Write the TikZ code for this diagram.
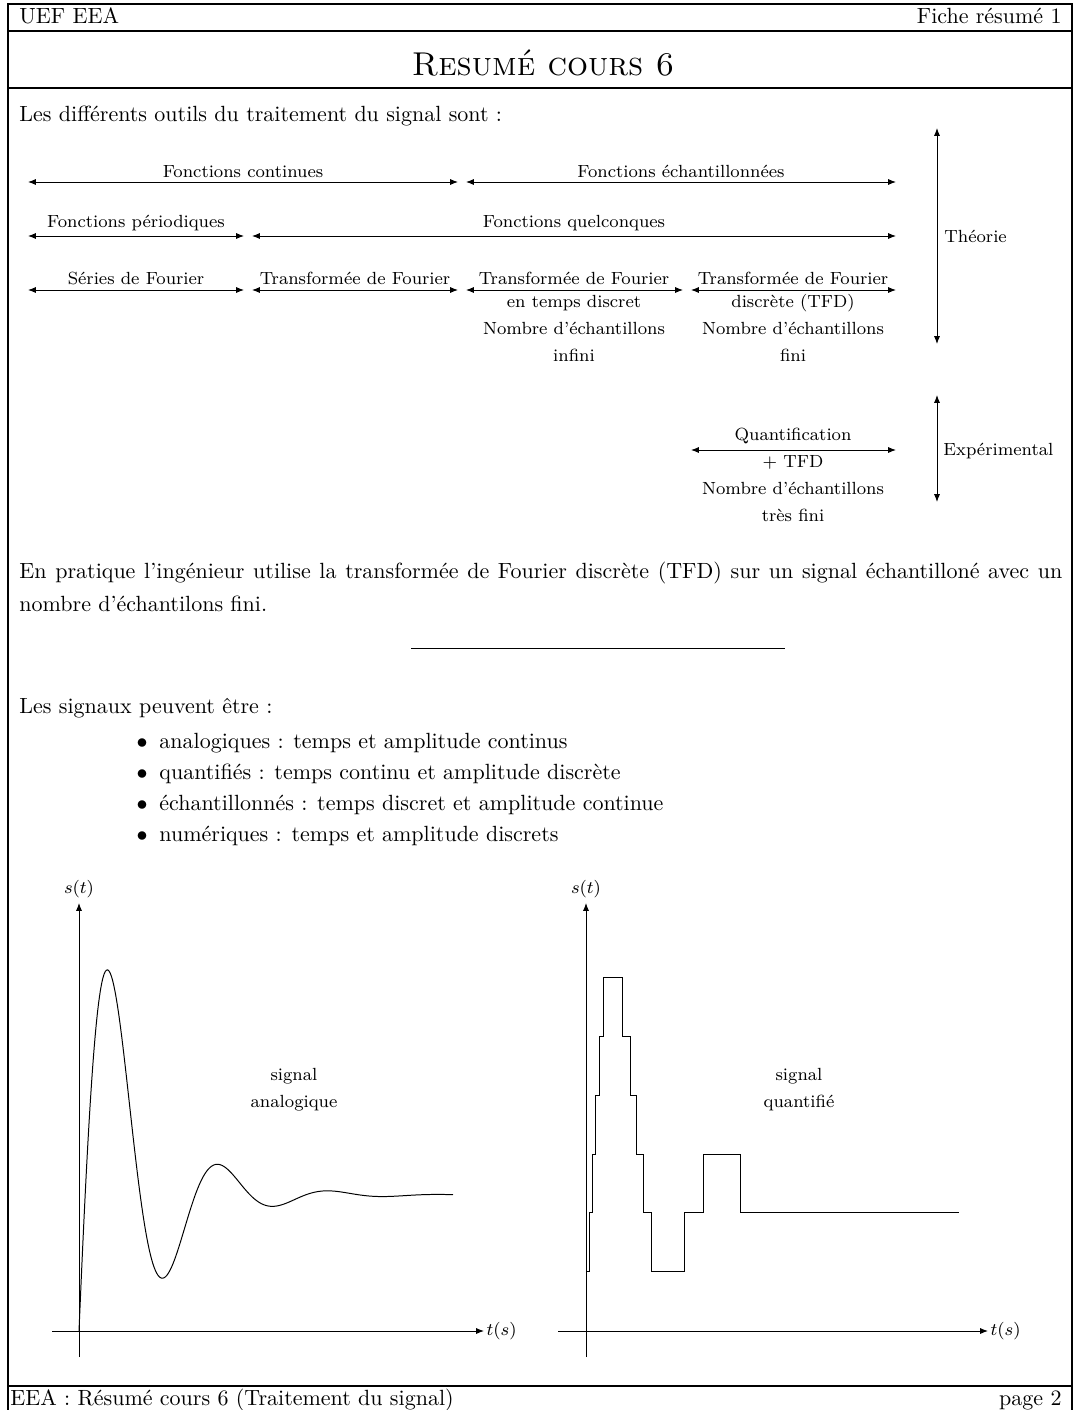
\documentclass[tikz,border=0pt]{standalone}
\usetikzlibrary{arrows.meta}
\begin{document}
\begin{tikzpicture}[x=0.4545pt,y=-0.4545pt,
  frameline/.style={line width=0.5pt},
  darr/.style={{Latex[length=3.6pt,width=2.8pt]}-{Latex[length=3.6pt,width=2.8pt]}, line width=0.45pt},
  axisarr/.style={-{Latex[length=3.6pt,width=2.8pt]}, line width=0.45pt},
  curve/.style={line width=0.45pt},
  lab/.style={font=\footnotesize, anchor=base, inner sep=0pt},
  labw/.style={font=\footnotesize, anchor=base west, inner sep=0pt},
  txt/.style={anchor=base west, inner sep=0pt}]
\useasboundingbox (0,0) rectangle (1076,1410);
% frame
\draw[frameline] (8,1410) -- (8,4) -- (1072,4) -- (1072,1410);
\draw[frameline] (8,31) -- (1072,31);
\draw[frameline] (8,88) -- (1072,88);
\draw[frameline] (8,1386) -- (1072,1386);
% header / footer
\node[txt] (hl) at (19,23) {UEF EEA};
\node[anchor=base east, inner sep=0pt] (hr) at (1062,23) {Fiche résumé 1};
\node[anchor=base, inner sep=0pt] (title) at (543,75) {\fontsize{15}{18}\selectfont\textsc{Resumé cours 6}};
\node[txt] (fl) at (10,1405) {EEA : Résumé cours 6 (Traitement du signal)};
\node[anchor=base east, inner sep=0pt] (fr) at (1062,1405) {page 2};
% intro
\node[txt] (intro) at (19,121) {Les différents outils du traitement du signal sont :};
% arrow end points
\coordinate (a1l) at (28,182);  \coordinate (a1r) at (458,182);
\coordinate (b1l) at (466,182); \coordinate (b1r) at (896,182);
\coordinate (a2l) at (28,236);  \coordinate (a2r) at (244,236);
\coordinate (b2l) at (252,236); \coordinate (b2r) at (896,236);
\coordinate (a3l) at (28,290);  \coordinate (a3r) at (244,290);
\coordinate (b3l) at (252,290); \coordinate (b3r) at (458,290);
\coordinate (c3l) at (466,290); \coordinate (c3r) at (683,290);
\coordinate (d3l) at (691,290); \coordinate (d3r) at (896,290);
\coordinate (el) at (691,450);  \coordinate (er) at (896,450);
\coordinate (tht) at (937,128); \coordinate (thb) at (937,344);
\coordinate (ext) at (937,395); \coordinate (exb) at (937,502);
\draw[darr] (a1l) -- (a1r);
\draw[darr] (b1l) -- (b1r);
\draw[darr] (a2l) -- (a2r);
\draw[darr] (b2l) -- (b2r);
\draw[darr] (a3l) -- (a3r);
\draw[darr] (b3l) -- (b3r);
\draw[darr] (c3l) -- (c3r);
\draw[darr] (d3l) -- (d3r);
\draw[darr] (el) -- (er);
\draw[darr] (tht) -- (thb);
\draw[darr] (ext) -- (exb);
% labels
\node[lab] (l1) at (243,177) {Fonctions continues};
\node[lab] (l2) at (681,177) {Fonctions échantillonnées};
\node[lab] (l3) at (136,227) {Fonctions périodiques};
\node[lab] (l4) at (574,227) {Fonctions quelconques};
\node[lab] (l5) at (136,284) {Séries de Fourier};
\node[lab] (l6) at (355,284) {Transformée de Fourier};
\node[lab] (l7) at (574,284) {Transformée de Fourier};
\node[lab] (l7b) at (574,307) {en temps discret};
\node[lab] (l7c) at (574,334) {Nombre d'échantillons};
\node[lab] (l7d) at (574,361) {infini};
\node[lab] (l8) at (793,284) {Transformée de Fourier};
\node[lab] (l8b) at (793,307) {discrète (TFD)};
\node[lab] (l8c) at (793,334) {Nombre d'échantillons};
\node[lab] (l8d) at (793,361) {fini};
\node[lab] (l9) at (793,440) {Quantification};
\node[lab] (l9b) at (793,467) {+ TFD};
\node[lab] (l9c) at (793,494) {Nombre d'échantillons};
\node[lab] (l9d) at (793,521) {très fini};
\node[labw] (th) at (944,242) {Théorie};
\node[labw] (ex) at (943,455) {Expérimental};
% paragraph
\node[txt] (p1) at (19,578) {\hbox to 474pt{En pratique l'ingénieur utilise la transformée de Fourier discrète (TFD) sur un signal échantilloné avec un}};
\node[txt] (p2) at (19,611) {nombre d'échantilons fini.};
\coordinate (sepl) at (411,648); \coordinate (sepr) at (785,648);
\draw[line width=0.45pt] (sepl) -- (sepr);
% list
\node[txt] (sig) at (19,713) {Les signaux peuvent être :};
\node[anchor=base, inner sep=0pt] (b1) at (142,748) {$\bullet$};
\node[anchor=base, inner sep=0pt] (b2) at (142,779) {$\bullet$};
\node[anchor=base, inner sep=0pt] (b3) at (142,810) {$\bullet$};
\node[anchor=base, inner sep=0pt] (b4) at (142,841) {$\bullet$};
\node[txt] (i1) at (159,748) {analogiques : temps et amplitude continus};
\node[txt] (i2) at (159,779) {quantifiés : temps continu et amplitude discrète};
\node[txt] (i3) at (159,810) {échantillonnés : temps discret et amplitude continue};
\node[txt] (i4) at (159,841) {numériques : temps et amplitude discrets};
% left graph
\coordinate (lx0) at (52,1331); \coordinate (lx1) at (484,1331);
\coordinate (ly0) at (79,1357); \coordinate (ly1) at (79,903);
\draw[axisarr] (lx0) -- (lx1);
\draw[axisarr] (ly0) -- (ly1);
\node[font=\footnotesize, anchor=west, inner sep=1pt] (lt) at (lx1) {$t(s)$};
\node[font=\footnotesize, anchor=south, inner sep=2pt] (ls) at (ly1) {$s(t)$};
\draw[curve] plot[domain=0:374, samples=300, smooth]
  ({79+\x},{1331-(136+exp(-0.0181*\x)*(370*sin(0.0571*\x r)-136*cos(0.0571*\x r)))});
\node[lab] (la1) at (294,1080) {signal};
\node[lab] (la2) at (294,1107) {analogique};
% right graph
\coordinate (rx0) at (558,1331); \coordinate (rx1) at (988,1331);
\coordinate (ry0) at (586,1357); \coordinate (ry1) at (586,903);
\draw[axisarr] (rx0) -- (rx1);
\draw[axisarr] (ry0) -- (ry1);
\node[font=\footnotesize, anchor=west, inner sep=1pt] (rt) at (rx1) {$t(s)$};
\node[font=\footnotesize, anchor=south, inner sep=2pt] (rs) at (ry1) {$s(t)$};
\draw[curve] (586.7,1331) -- (586.7,1271.7) -- (589.3,1271.7) -- (589.3,1212.3) -- (592,1212.3)
  -- (592,1154) -- (595.7,1154) -- (595.7,1095.3) -- (599.3,1095.3) -- (599.3,1036.7)
  -- (603.7,1036.7) -- (603.7,977.7) -- (622.3,977.7) -- (622.3,1036.7) -- (630,1036.7)
  -- (630,1095.3) -- (636.7,1095.3) -- (636.7,1154) -- (643,1154) -- (643,1212.3)
  -- (651.7,1212.3) -- (651.7,1271.7) -- (684.3,1271.7) -- (684.3,1212.3) -- (703.7,1212.3)
  -- (703.7,1154) -- (740.7,1154) -- (740.7,1212.3) -- (959,1212.3);
\node[lab] (ra1) at (799,1080) {signal};
\node[lab] (ra2) at (799,1107) {quantifié};
\end{tikzpicture}
\end{document}
